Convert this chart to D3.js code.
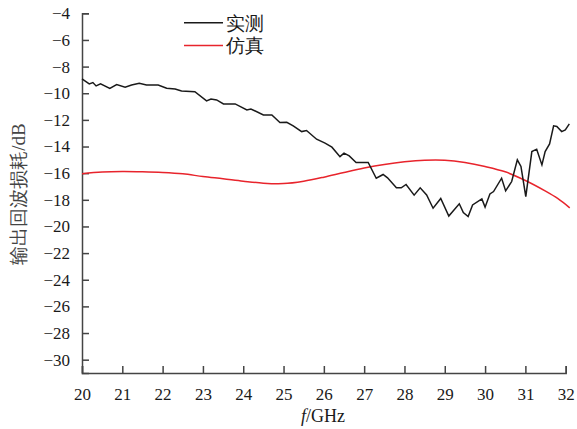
<!DOCTYPE html>
<html>
<head>
<meta charset="utf-8">
<script src="https://cdn.jsdelivr.net/npm/d3@7"></script>
<style>
  body { margin: 0; background: #fff; }
  svg { display: block; }
  text { font-family: "Liberation Serif", "Times New Roman", serif; }
</style>
</head>
<body>
<svg id="chart" width="577" height="429"></svg>
<script>
// measured (实测): frequency in GHz, return loss in dB
var measFreq = [20.0, 20.18, 20.27, 20.35, 20.46, 20.69, 20.86, 21.07, 21.23, 21.42, 21.6, 21.89,
  22.1, 22.31, 22.47, 22.8, 23.09, 23.2, 23.34, 23.51, 23.8, 24.09, 24.19, 24.5, 24.71, 24.91,
  25.08, 25.24, 25.45, 25.57, 25.82, 26.03, 26.2, 26.4, 26.5, 26.63, 26.8, 27.1, 27.3, 27.47,
  27.58, 27.8, 27.92, 28.04, 28.24, 28.39, 28.55, 28.71, 28.9, 29.1, 29.36, 29.46, 29.58, 29.69,
  29.92, 30.0, 30.12, 30.21, 30.41, 30.51, 30.66, 30.8, 30.89, 31.01, 31.16, 31.28, 31.41, 31.49,
  31.6, 31.7, 31.78, 31.9, 31.99, 32.09]
var measDb = [-8.93, -9.3, -9.2, -9.45, -9.3, -9.63, -9.35, -9.55, -9.38, -9.25, -9.38, -9.38,
  -9.63, -9.68, -9.83, -9.88, -10.58, -10.43, -10.5, -10.8, -10.8, -11.25, -11.18, -11.63, -11.63, -12.2,
  -12.18, -12.45, -12.88, -12.8, -13.45, -13.75, -14.05, -14.76, -14.5, -14.7, -15.2, -15.2, -16.38, -16.1,
  -16.35, -17.1, -17.1, -16.85, -17.65, -17.1, -17.63, -18.63, -17.9, -19.22, -18.3, -18.96, -19.25, -18.38,
  -17.93, -18.55, -17.56, -17.38, -16.38, -17.33, -16.63, -15.0, -15.5, -17.76, -14.38, -14.2, -15.38, -14.38,
  -13.8, -12.45, -12.5, -12.88, -12.75, -12.3]

// simulated (仿真)
var simFreq = [20, 20.5, 21, 21.5, 22, 22.5, 23, 23.5, 24, 24.5, 25, 25.5, 26, 26.5, 27, 27.5,
  28, 28.5, 29, 29.5, 30, 30.5, 31, 31.5, 31.8, 32.1]
var simDb = [-16.05, -15.92, -15.88, -15.9, -15.95, -16.05, -16.25, -16.42, -16.6, -16.75, -16.78, -16.6,
  -16.3, -15.95, -15.62, -15.35, -15.15, -15.03, -15.03, -15.2, -15.5, -15.9, -16.55, -17.35, -17.9, -18.6]

var xTicks = d3.range(20, 33, 1)
var yTicks = d3.range(-30, -3, 2)
var legendLabels = ['实测', '仿真']
var colors = ['#1a1a1a', '#e8242c']

var svg = d3.select('#chart')

var x = d3.scaleLinear().domain([20, 32]).range([82, 565.7])
var y = d3.scaleLinear().domain([-31, -4]).range([373, 13.3])

var fmt = d => d < 0 ? '\u2212' + Math.abs(d) : d

// axes, ticks pointing inward
var xAxis = d3.axisBottom(x).tickValues(xTicks).tickSize(-7).tickPadding(20).tickFormat(d => d)
var yAxis = d3.axisLeft(y).tickValues(yTicks).tickSize(-7).tickPadding(12).tickFormat(fmt)

var gx = svg.append('g').attr('transform', 'translate(0,373)').call(xAxis)
var gy = svg.append('g').attr('transform', 'translate(82,0)').call(yAxis)

;[gx, gy].forEach(g => {
  g.select('.domain').attr('stroke', '#444').attr('stroke-width', 1.5)
  g.selectAll('.tick line').attr('stroke', '#444').attr('stroke-width', 1.5)
  g.selectAll('.tick text')
    .attr('font-family', '"Liberation Serif", serif')
    .attr('font-size', 17)
    .attr('fill', '#1a1a1a')
})
gx.selectAll('.tick text').attr('dy', 0).attr('y', 27)

var line = d3.line().x(d => x(d[0])).y(d => y(d[1]))

svg.append('path')
  .datum(simFreq.map((f, i) => [f, simDb[i]]))
  .attr('d', line.curve(d3.curveCatmullRom))
  .attr('fill', 'none').attr('stroke', colors[1]).attr('stroke-width', 1.5)

svg.append('path')
  .datum(measFreq.map((f, i) => [f, measDb[i]]))
  .attr('d', line.curve(d3.curveLinear))
  .attr('fill', 'none').attr('stroke', colors[0]).attr('stroke-width', 1.5)

// legend
var leg = svg.append('g').attr('transform', 'translate(184,22.7)')
legendLabels.forEach((t, i) => {
  leg.append('line')
    .attr('x1', 0).attr('x2', 39).attr('y1', i * 22.7).attr('y2', i * 22.7)
    .attr('stroke', colors[i]).attr('stroke-width', 1.5)
  leg.append('text')
    .attr('x', 42).attr('y', i * 22.7 + 7)
    .attr('font-family', '"Noto Sans CJK SC", sans-serif')
    .attr('font-size', 19)
    .attr('fill', '#1a1a1a')
    .text(t)
})

// axis titles
var xt = svg.append('text')
  .attr('x', 323).attr('y', 422)
  .attr('text-anchor', 'middle')
  .attr('font-size', 18).attr('fill', '#1a1a1a')
xt.append('tspan').attr('font-style', 'italic').text('f')
xt.append('tspan').text('/GHz')

svg.append('text')
  .attr('transform', 'translate(25,194) rotate(-90)')
  .attr('text-anchor', 'middle')
  .attr('font-size', 19)
  .attr('fill', '#444')
  .text('输出回波损耗/dB')
</script>
</body>
</html>
